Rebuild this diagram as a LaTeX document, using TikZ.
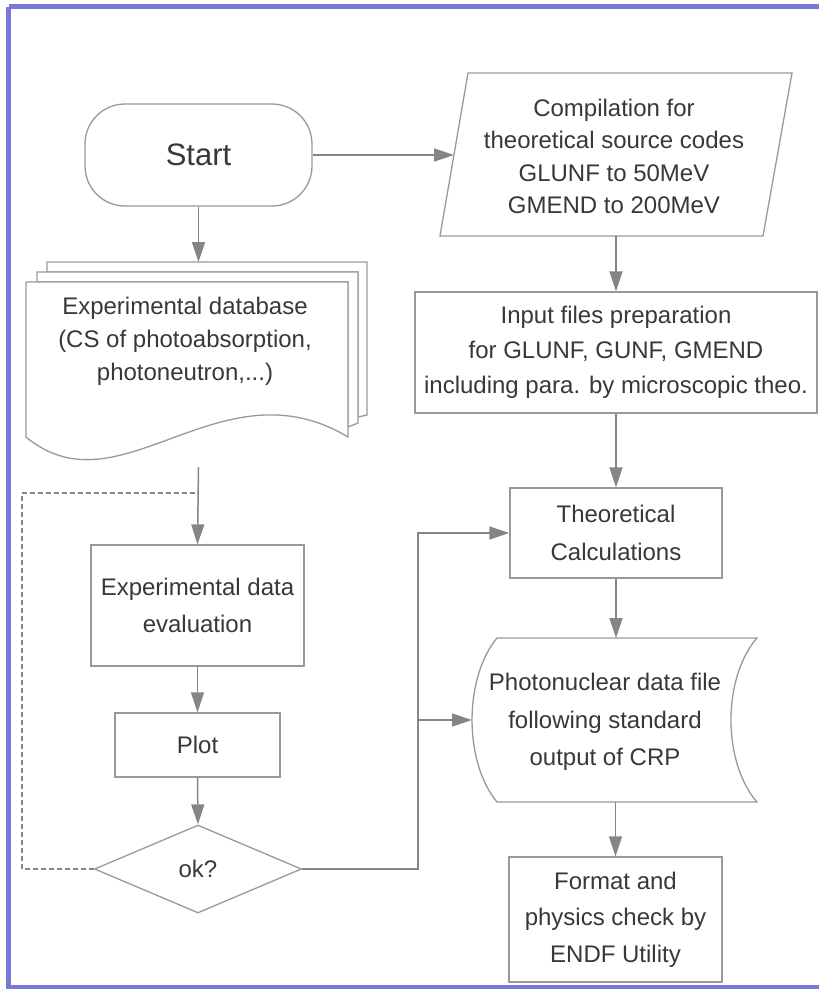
\documentclass[tikz,border=0pt]{standalone}
\usepackage{fontspec}
\setmainfont{Liberation Sans}
\usetikzlibrary{arrows.meta,shapes.geometric}
\definecolor{frame}{HTML}{7878D8}
\definecolor{shapeline}{HTML}{999999}
\definecolor{conn}{HTML}{858585}
\definecolor{txt}{HTML}{383838}
\tikzset{
  shp/.style={draw=shapeline, line width=1.3pt, fill=white, text=txt, align=center, inner sep=0pt,
    font=\fontsize{24}{36}\selectfont},
  boxnode/.style={shp, rectangle},
  txtnode/.style={text=txt, align=center, inner sep=0pt, font=\fontsize{24}{36}\selectfont},
  conline/.style={draw=conn, line width=1.5pt},
  arr/.style={conline, -{Triangle[length=20pt,width=13pt]}},
  dashconn/.style={draw=conn, line width=1.2pt, dashed, dash pattern=on 5pt off 3pt},
}
\begin{document}
\begin{tikzpicture}[x=1pt,y=-1pt]
\useasboundingbox (0,0) rectangle (819,989);
% frame
\draw[frame, line width=5pt] (8.5,6.5) -- (830,6.5);
\draw[frame, line width=5pt] (8.5,6.5) -- (8.5,987.5) -- (830,987.5);

% Start
\node[shp, minimum width=227pt, minimum height=102pt, rounded corners=40pt,
  font=\fontsize{31}{36}\selectfont] (start) at (198.5,155) {Start};

% Compilation parallelogram
\coordinate (cTL) at (468,73);
\coordinate (cTR) at (792,73);
\coordinate (cBR) at (763,236);
\coordinate (cBL) at (440,236);
\draw[draw=shapeline, line width=1.3pt, fill=white] (cTL) -- (cTR) -- (cBR) -- (cBL) -- cycle;
\node[txtnode, font=\fontsize{24}{32.5}\selectfont] (comp) at (614,156.5)
  {Compilation for\\theoretical source codes\\GLUNF to 50MeV\\GMEND to 200MeV};
\coordinate (compW) at (454,155);
\coordinate (compS) at (616,236);

% Input files
\node[boxnode, minimum width=402pt, minimum height=121pt, font=\fontsize{24}{35}\selectfont] (input) at (616,352.5)
  {Input files preparation\\for GLUNF, GUNF, GMEND\\including para. by microscopic theo.};

% Theoretical calculations
\node[boxnode, minimum width=212pt, minimum height=90pt, font=\fontsize{24}{38}\selectfont] (tc) at (616,533)
  {Theoretical\\Calculations};

% Stored data
\coordinate (sTL) at (497,638);
\coordinate (sTR) at (757,638);
\coordinate (sBR) at (757,802);
\coordinate (sBL) at (497,802);
\draw[draw=shapeline, line width=1.3pt, fill=white] (sTL) -- (sTR)
  .. controls (722.3,678) and (722.3,762) .. (sBR) -- (sBL)
  .. controls (463.7,762) and (463.7,678) .. (sTL) -- cycle;
\node[txtnode, font=\fontsize{24}{37.5}\selectfont] (stored) at (605,722)
  {Photonuclear data file\\following standard\\output of CRP};
\coordinate (stW) at (472,720);
\coordinate (stN) at (616,638);
\coordinate (stS) at (615.5,802);

% Format box
\node[boxnode, minimum width=213pt, minimum height=125pt, font=\fontsize{24}{36.5}\selectfont] (fmt) at (615.5,919.5)
  {Format and\\physics check by\\ENDF Utility};

% Document stack
\draw[draw=shapeline, line width=1.3pt, fill=white] (47,272) -- (47,262) -- (367,262) -- (367,415) -- (358,417) -- (358,272) -- cycle;
\draw[draw=shapeline, line width=1.3pt, fill=white] (37,282) -- (37,272) -- (358,272) -- (358,423) -- (348,427) -- (348,282) -- cycle;
\draw[draw=shapeline, line width=1.3pt, fill=white] (26,282) -- (348,282) -- (348,437)
  .. controls (220,360) and (120,515) .. (26,437) -- cycle;
\node[txtnode, font=\fontsize{24}{33}\selectfont] (doc) at (185,341)
  {Experimental database\\(CS of photoabsorption,\\photoneutron,...)};
\coordinate (docN) at (198.5,262);
\coordinate (docS) at (198.5,467);

% Evaluation
\node[boxnode, minimum width=213pt, minimum height=121pt, font=\fontsize{24}{37}\selectfont] (eval) at (197.5,605.5)
  {Experimental data\\evaluation};

% Plot
\node[boxnode, minimum width=165pt, minimum height=64pt] (plot) at (197.5,745) {Plot};

% Decision
\node[shp, diamond, minimum width=207pt, minimum height=88pt] (ok) at (198,869) {ok?};

% Connectors
\draw[arr] (start.east) -- (compW);
\draw[arr] (start.south) -- (docN);
\draw[arr] (compS) -- (input.north);
\draw[arr] (input.south) -- (tc.north);
\draw[arr] (tc.south) -- (stN);
\draw[arr] (stS) -- (fmt.north);
\coordinate (junc) at (198.5,493);
\coordinate (dashL) at (22,493);
\coordinate (dashB) at (22,869);
\draw[arr] (docS) -- (eval.north);
\draw[dashconn] (ok.west) -- (dashB) -- (dashL) -- (junc);
\draw[arr] (eval.south) -- (plot.north);
\draw[arr] (plot.south) -- (ok.north);
\coordinate (rb) at (418,869);
\coordinate (rt) at (418,533);
\coordinate (rm) at (418,720);
\draw[arr] (ok.east) -- (rb) -- (rt) -- (tc.west);
\draw[arr] (rm) -- (stW);
\end{tikzpicture}
\end{document}
